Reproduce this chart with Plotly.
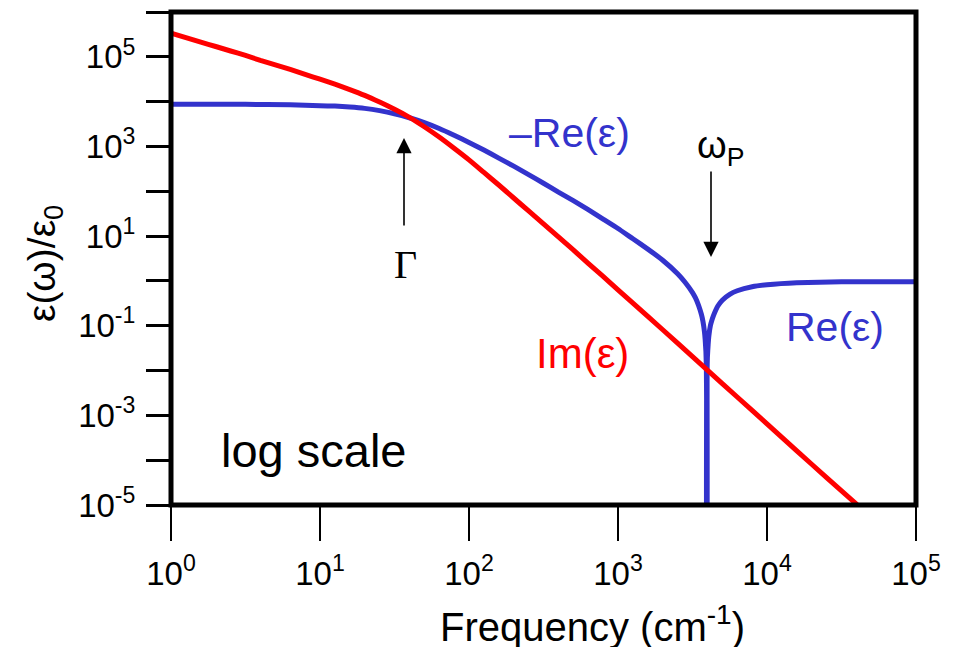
import numpy as np
import plotly.graph_objects as go

# ---- data (log10 of frequency in cm^-1, log10 of eps/eps0) ----
im_logfreq = [0.0, 0.1, 0.2, 0.3, 0.4, 0.5, 0.6, 0.7, 0.8, 0.9, 1.0, 1.1, 1.2, 1.3, 1.4,
              1.5, 1.6, 1.7, 1.8, 1.9, 2.0, 2.1, 2.2, 2.3, 2.4, 2.5, 2.6, 2.7, 2.8, 2.9,
              3.0, 3.2, 3.4, 3.6, 3.8, 4.0, 4.2, 4.4, 4.604]
im_logval = [5.53, 5.43, 5.33, 5.23, 5.13, 5.03, 4.92, 4.82, 4.72, 4.61, 4.50, 4.39, 4.27, 4.14, 3.99,
             3.83, 3.65, 3.44, 3.21, 2.96, 2.70, 2.42, 2.14, 1.85, 1.56, 1.27, 0.98, 0.69, 0.39, 0.10,
             -0.20, -0.79, -1.39, -1.99, -2.59, -3.19, -3.79, -4.39, -4.99]

# |Re(eps)|: -Re below the plasma frequency, Re above it
re_logfreq = [0.0, 0.5, 0.8, 0.9, 1.0, 1.1, 1.2, 1.3, 1.4, 1.5, 1.6, 1.7, 1.8, 1.9, 2.0,
              2.1, 2.2, 2.3, 2.4, 2.5, 2.6, 2.7, 2.8, 2.9, 3.0, 3.1, 3.2, 3.3, 3.4, 3.45,
              3.5, 3.52, 3.54, 3.56, 3.57, 3.58, 3.585, 3.59, 3.593, 3.5945, 3.5955,
              3.5965, 3.598, 3.60, 3.605, 3.61, 3.62, 3.63, 3.64, 3.655, 3.67, 3.70, 3.75,
              3.8, 3.9, 4.0, 4.2, 4.5, 5.0]
re_logval = [3.94, 3.94, 3.93, 3.92, 3.91, 3.90, 3.88, 3.85, 3.80, 3.73, 3.64, 3.53, 3.40, 3.25, 3.09,
             2.92, 2.74, 2.56, 2.37, 2.18, 1.98, 1.79, 1.59, 1.38, 1.17, 0.94, 0.71, 0.46, 0.16, -0.03,
             -0.26, -0.38, -0.54, -0.75, -0.90, -1.13, -1.31, -1.58, -1.95, -2.6, -7.0,
             -7.0, -2.00, -1.70, -1.42, -1.22, -1.00, -0.88, -0.78, -0.66, -0.56, -0.43, -0.30,
             -0.22, -0.13, -0.085, -0.04, -0.02, -0.02]

x_tick_exp = [0, 1, 2, 3, 4, 5]
y_tick_exp = [6, 5, 4, 3, 2, 1, 0, -1, -2, -3, -4, -5]
y_label_exp = [5, 3, 1, -1, -3, -5]

BLUE = "#3333CC"
RED = "#FF0000"
FONT = "Liberation Sans, Arial, sans-serif"

W, H = 957, 647
L, R, T, B = 171, 41, 12, 142
PW, PH = W - L - R, H - T - B


def px(xp):
    return (xp - L) / PW


def py(yp):
    return (T + PH - yp) / PH


fig = go.Figure()
fig.add_trace(go.Scatter(x=np.power(10.0, re_logfreq), y=np.power(10.0, re_logval),
                         mode="lines", line=dict(color=BLUE, width=5, shape="spline", smoothing=0.4),
                         hoverinfo="skip"))
fig.add_trace(go.Scatter(x=np.power(10.0, im_logfreq), y=np.power(10.0, im_logval),
                         mode="lines", line=dict(color=RED, width=5, shape="spline", smoothing=0.6),
                         hoverinfo="skip"))

xt_vals = [10.0 ** e for e in x_tick_exp]
xt_text = ["10<sup>%d</sup>" % e for e in x_tick_exp]
yt_vals = [10.0 ** e for e in y_tick_exp]
yt_text = [("10<sup>%d</sup>" % e) if e in y_label_exp else "" for e in y_tick_exp]

fig.update_layout(
    width=W, height=H,
    margin=dict(l=L, r=R, t=T, b=B, pad=0),
    paper_bgcolor="white", plot_bgcolor="white",
    showlegend=False,
    font=dict(family=FONT, color="black"),
    xaxis=dict(type="log", range=[0, 5], tickvals=xt_vals, ticktext=xt_text,
               ticks="outside", ticklen=35, tickwidth=2, tickcolor="black",
               showgrid=False, zeroline=False, showline=False,
               tickfont=dict(size=33, family=FONT, color="black"), ticklabelstandoff=4),
    yaxis=dict(type="log", range=[-5, 6], tickvals=yt_vals, ticktext=yt_text,
               ticks="outside", ticklen=24, tickwidth=2.5, tickcolor="black",
               showgrid=False, zeroline=False, showline=False,
               tickfont=dict(size=33, family=FONT, color="black"), ticklabelstandoff=4),
)

fig.add_shape(type="rect", xref="paper", yref="paper", x0=0, x1=1, y0=0, y1=1,
              line=dict(color="black", width=5), layer="above")

ann = [
    dict(text="\u2013Re(\u03b5)", x=px(569), y=py(133), font=dict(size=41, color=BLUE, family=FONT)),
    dict(text="Re(\u03b5)", x=px(834.5), y=py(327), font=dict(size=41, color=BLUE, family=FONT)),
    dict(text="Im(\u03b5)", x=px(582), y=py(353), font=dict(size=42, color=RED, family=FONT)),
    dict(text="log scale", x=px(314), y=py(450), font=dict(size=47, color="black", family=FONT)),
    dict(text="\u0393", x=px(405.5), y=py(264),
         font=dict(size=40, color="black", family="Liberation Serif, Times New Roman, serif")),
    dict(text="\u03c9<sub>P</sub>", x=px(720), y=py(148), font=dict(size=38, color="black", family=FONT)),
    dict(text="\u03b5(\u03c9)/\u03b5<sub>0</sub>", x=px(44), y=py(264), textangle=-90,
         font=dict(size=39, color="black", family=FONT)),
    dict(text="Frequency (cm<sup>-1</sup>)", x=px(592), y=py(624),
         font=dict(size=40, color="black", family=FONT)),
]
for a in ann:
    fig.add_annotation(xref="paper", yref="paper", showarrow=False,
                       xanchor="center", yanchor="middle", **a)

# arrows (tip at x, y; tail offset ax, ay in pixels)
fig.add_annotation(xref="paper", yref="paper", x=px(404), y=py(138), ax=0, ay=89,
                   text="", showarrow=True, arrowhead=2, arrowsize=1.9, arrowwidth=1.6,
                   arrowcolor="black", standoff=0)
fig.add_annotation(xref="paper", yref="paper", x=px(711), y=py(257), ax=0, ay=-87,
                   text="", showarrow=True, arrowhead=2, arrowsize=1.9, arrowwidth=1.6,
                   arrowcolor="black", standoff=0)

fig.write_html("out.html", config={"displayModeBar": False},
               post_script="document.body.style.margin='0';document.body.style.padding='0';"
                           "document.body.style.overflow='hidden';")
